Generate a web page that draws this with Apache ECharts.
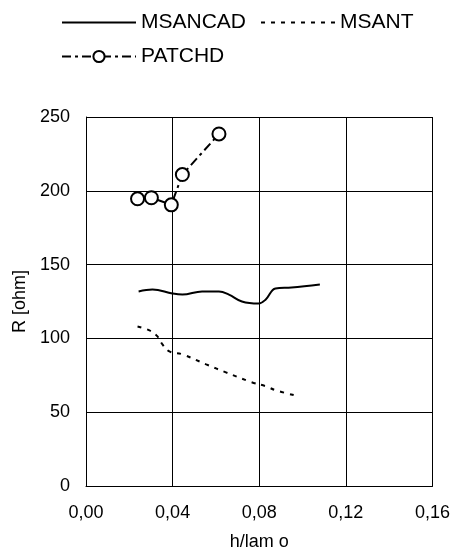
<!DOCTYPE html>
<html><head><meta charset="utf-8">
<script src="https://cdn.jsdelivr.net/npm/echarts@6/dist/echarts.min.js"></script>
<style>html,body{margin:0;padding:0;background:#fff}#c{width:453px;height:556px}</style>
</head><body><div id="c"></div>
<script>
const msancadX = [0.0243, 0.0307, 0.0399, 0.0445, 0.0536, 0.0614, 0.066, 0.072, 0.0797, 0.083, 0.0875, 0.0949, 0.108];
const msancadY = [131.8, 133.1, 130.4, 129.7, 131.8, 131.8, 129.7, 125.0, 123.6, 126.4, 133.8, 134.5, 136.5];
const msantX = [0.0238, 0.0293, 0.033, 0.0353, 0.0385, 0.0445, 0.0555, 0.0646, 0.0765, 0.083, 0.0875, 0.0962];
const msantY = [108.1, 105.4, 101.4, 95.9, 91.2, 89.2, 82.4, 77.0, 70.3, 67.6, 64.9, 61.5];
const patchX = [0.0238, 0.0302, 0.0394, 0.0445, 0.0614];
const patchY = [194.6, 195.3, 190.5, 211.0, 238.5];
const seriesNames = ['MSANCAD', 'MSANT', 'PATCHD'];
const xTicks = [0, 0.04, 0.08, 0.12, 0.16];
const yTicks = [0, 50, 100, 150, 200, 250];

const zip = (a, b) => a.map((v, i) => [v, b[i]]);
const font = 'Liberation Sans, Arial, sans-serif';
const legendText = { fontFamily: font, fontSize: 21, color: '#000' };
const chart = echarts.init(document.getElementById('c'));
chart.setOption({
  animation: false,
  textStyle: { fontFamily: font, color: '#000' },
  legend: [
    { data: [{ name: seriesNames[0], itemStyle: { opacity: 0 } }, { name: seriesNames[1], itemStyle: { opacity: 0 } }],
      left: 61, top: 12, itemWidth: 74, itemHeight: 14, itemGap: 14, padding: 0, textStyle: legendText },
    { data: [seriesNames[2]], left: 61, top: 46, itemWidth: 74, itemHeight: 14, padding: 0, textStyle: legendText }
  ],
  grid: { left: 86, right: 18, top: 117, bottom: 69, containLabel: false },
  xAxis: {
    type: 'value', min: xTicks[0], max: xTicks[xTicks.length - 1], interval: 0.04,
    name: 'h/lam o', nameLocation: 'middle', nameGap: 47,
    nameTextStyle: { fontFamily: font, fontSize: 18, color: '#000' },
    axisLine: { show: true, lineStyle: { color: '#000', width: 1 } },
    axisTick: { show: false },
    axisLabel: { margin: 18, fontSize: 18, color: '#000', fontFamily: font,
      formatter: v => v.toFixed(2).replace('.', ',') },
    splitLine: { show: true, lineStyle: { color: '#000', width: 1 } }
  },
  yAxis: {
    type: 'value', min: yTicks[0], max: yTicks[yTicks.length - 1], interval: 50,
    name: 'R [ohm]', nameLocation: 'middle', nameGap: 57, nameRotate: 90,
    nameTextStyle: { fontFamily: font, fontSize: 18, color: '#000' },
    axisLine: { show: true, lineStyle: { color: '#000', width: 1 } },
    axisTick: { show: false },
    axisLabel: { margin: 16, fontSize: 18, color: '#000', fontFamily: font },
    splitLine: { show: true, lineStyle: { color: '#000', width: 1 } }
  },
  series: [
    { name: seriesNames[0], type: 'line', data: zip(msancadX, msancadY), smooth: 0.4,
      symbol: 'none', lineStyle: { color: '#000', width: 2 }, itemStyle: { color: '#000' } },
    { name: seriesNames[1], type: 'line', data: zip(msantX, msantY), smooth: 0.4,
      symbol: 'none', lineStyle: { color: '#000', width: 2, type: [4, 6] }, itemStyle: { color: '#000' } },
    { name: seriesNames[2], type: 'line', data: zip(patchX, patchY),
      symbol: 'circle', symbolSize: 13, showSymbol: true,
      lineStyle: { color: '#000', width: 2, type: [9, 4, 3, 4] },
      itemStyle: { color: '#fff', borderColor: '#000', borderWidth: 2 } }
  ]
});
</script></body></html>
